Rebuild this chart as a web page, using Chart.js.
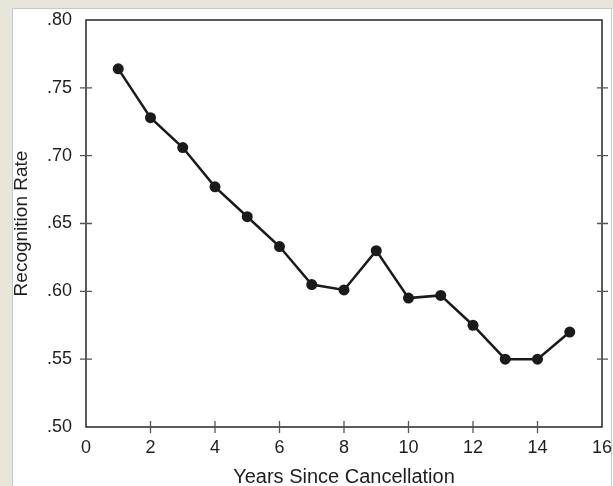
<!DOCTYPE html>
<html>
<head>
<meta charset="utf-8">
<script src="https://cdn.jsdelivr.net/npm/chart.js@4.4.1/dist/chart.umd.min.js"></script>
<style>
html,body{margin:0;padding:0;background:#e8e5da;}
#wrap{width:613px;height:486px;position:relative;}
</style>
</head>
<body>
<div id="wrap"><canvas id="c" width="613" height="486"></canvas></div>
<script>
const years = [1,2,3,4,5,6,7,8,9,10,11,12,13,14,15];
const recognition = [0.764,0.728,0.706,0.677,0.655,0.633,0.605,0.601,0.630,0.595,0.597,0.575,0.550,0.550,0.570];
const xTicks = [0,2,4,6,8,10,12,14,16];
const yTicks = [0.50,0.55,0.60,0.65,0.70,0.75,0.80];
const xTitle = 'Years Since Cancellation';
const yTitle = 'Recognition Rate';

const frame = {
  id:'frame',
  beforeDraw(chart){
    const ctx = chart.ctx;
    ctx.save();
    ctx.fillStyle = '#e8e5da';
    ctx.fillRect(0,0,613,486);
    ctx.fillStyle = '#ffffff';
    ctx.fillRect(13,9,600,477);
    ctx.strokeStyle = '#c8c8c8';
    ctx.lineWidth = 1;
    ctx.strokeRect(12.5,8.5,599,480);
    ctx.restore();
  },
  afterDatasetsDraw(chart){
    const ctx = chart.ctx;
    const a = chart.chartArea;
    const xs = chart.scales.x, ys = chart.scales.y;
    ctx.save();
    ctx.strokeStyle = '#333333';
    ctx.lineWidth = 1.6;
    ctx.strokeRect(a.left, a.top, a.right - a.left, a.bottom - a.top);
    ctx.strokeStyle = '#555555';
    ctx.lineWidth = 1.3;
    ctx.beginPath();
    yTicks.forEach(v=>{
      if (v === yTicks[0] || v === yTicks[yTicks.length-1]) return;
      const y = ys.getPixelForValue(v);
      ctx.moveTo(a.left-6, y); ctx.lineTo(a.left+6, y);
      ctx.moveTo(a.right-5, y); ctx.lineTo(a.right+6, y);
    });
    xTicks.forEach(v=>{
      if (v === xTicks[0] || v === xTicks[xTicks.length-1]) return;
      const x = xs.getPixelForValue(v);
      ctx.moveTo(x, a.bottom-6); ctx.lineTo(x, a.bottom+6);
    });
    ctx.stroke();
    ctx.restore();
  }
};

const FONT = 'Liberation Sans, Arial, sans-serif';

new Chart(document.getElementById('c'), {
  type:'line',
  data:{
    datasets:[{
      data: years.map((x,i)=>({x:x, y:recognition[i]})),
      borderColor:'#1a1a1a',
      backgroundColor:'#1a1a1a',
      borderWidth:2.5,
      pointRadius:5.5,
      pointHoverRadius:5.5,
      pointBorderWidth:0,
      tension:0,
      clip:false
    }]
  },
  options:{
    responsive:false,
    animation:false,
    events:[],
    layout:{padding:{top:20,right:11,left:0,bottom:0}},
    plugins:{legend:{display:false},tooltip:{enabled:false}},
    scales:{
      x:{
        type:'linear', min:0, max:16,
        afterBuildTicks(s){ s.ticks = xTicks.map(v=>({value:v})); },
        afterFit(s){ s.height = 59; s.paddingLeft = 0; s.paddingRight = 0; },
        grid:{display:false, drawTicks:false},
        border:{display:false},
        ticks:{color:'#1e1e1e', padding:10, font:{family:FONT, size:18}, callback:v=>String(v)},
        title:{display:true, text:xTitle, color:'#1e1e1e', padding:{top:0,bottom:-3}, font:{family:FONT, size:20}}
      },
      y:{
        type:'linear', min:0.5, max:0.8,
        afterBuildTicks(s){ s.ticks = yTicks.map(v=>({value:v})); },
        afterFit(s){ s.width = 86; s.paddingTop = 0; s.paddingBottom = 0; },
        grid:{display:false, drawTicks:false},
        border:{display:false},
        ticks:{color:'#1e1e1e', padding:14, font:{family:FONT, size:18}, callback:v=>'.'+Math.round(v*100)},
        title:{display:true, text:yTitle, color:'#1e1e1e', padding:{top:10,bottom:0}, font:{family:FONT, size:19}}
      }
    }
  },
  plugins:[frame]
});
</script>
</body>
</html>
